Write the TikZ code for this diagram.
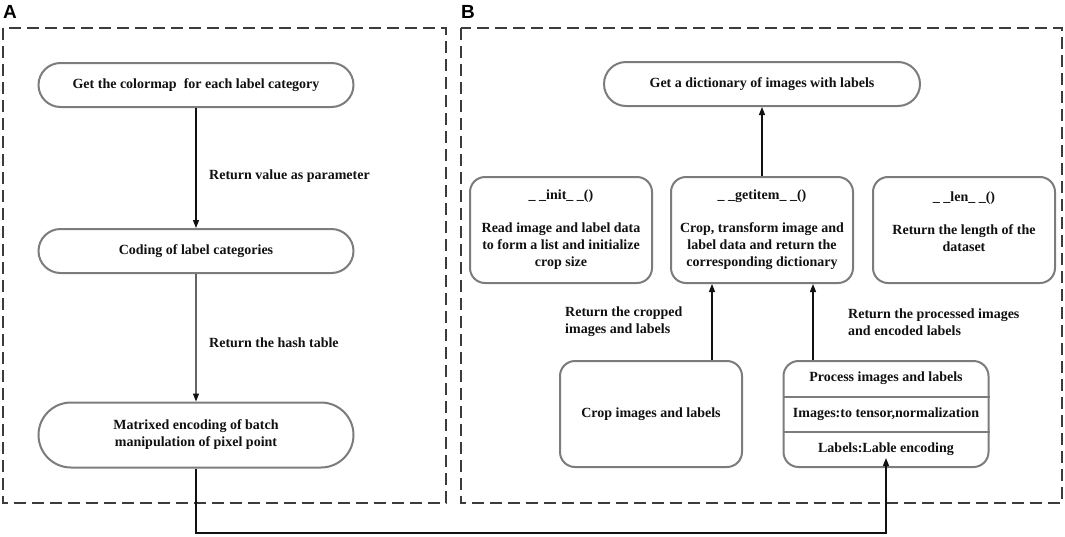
\documentclass[tikz,border=0pt]{standalone}
\usepackage{fontspec}
\setmainfont{Liberation Serif}
\newfontfamily\panelfont{Liberation Sans}
\usetikzlibrary{arrows.meta,shapes.misc,positioning}
\definecolor{boxgray}{HTML}{7C7C7C}
\definecolor{dashgray}{HTML}{3C3C3C}
\definecolor{inkdark}{HTML}{111111}

\begin{document}
\begin{tikzpicture}[x=1pt, y=-1pt,
  pill/.style={rounded rectangle, draw=boxgray, line width=2pt, fill=white,
               text=inkdark, font=\bfseries\fontsize{14}{17}\selectfont,
               minimum width=315pt, minimum height=44pt, align=center, inner sep=0pt},
  card/.style={rectangle, rounded corners=15pt, draw=boxgray, line width=2pt,
               fill=white, text=inkdark, font=\bfseries\fontsize{14}{17}\selectfont,
               minimum width=182pt, minimum height=106pt, align=center, inner sep=0pt},
  rowtxt/.style={text=inkdark, font=\bfseries\fontsize{14}{17}\selectfont, inner sep=0pt},
  panel/.style={dash pattern=on 12pt off 6pt, draw=dashgray, line width=1.5pt},
  flow/.style={-{Triangle[length=8pt,width=6pt]}, line width=1.2pt, inkdark},
  flowlbl/.style={anchor=west, align=left, text=inkdark,
                  font=\bfseries\fontsize{14}{17}\selectfont, inner sep=0pt},
  tag/.style={font=\panelfont\bfseries\fontsize{19}{19}\selectfont, inner sep=0pt}
]
\useasboundingbox (0,0) rectangle (1065,536);

%--- Panels ---
\draw[panel] (3,28) rectangle (446,503);
\draw[panel] (461,28) rectangle (1062,503);
\node[tag] (tagA) at (10,12) {A};
\node[tag] (tagB) at (468,12) {B};

%--- Panel A : label coding ---
\node[pill] (A1) at (196,85)  {Get the colormap\ \ for each label category};
\node[pill] (A2) at (196,251) {Coding of label categories};
\node[pill, minimum height=65pt] (A3) at (196,435)
  {Matrixed encoding of batch\\manipulation of pixel point};

\draw[flow] (A1) -- (A2);
\node[flowlbl] (lblA1) at (209,176) {Return value as parameter};
\draw[flow] (A2) -- (A3);
\node[flowlbl] (lblA2) at (209,343) {Return the hash table};

%--- Panel B : dataset class ---
\node[pill, minimum width=316pt] (B1) at (762,84) {Get a dictionary of images with labels};

\node[card] (B2) at (561,230)
  {\_ \_init\_ \_()\\[16pt]Read image and label data\\to form a list and initialize\\crop size};
\node[card] (B3) at (762,230)
  {\_ \_getitem\_ \_()\\[16pt]Crop, transform image and\\label data and return the\\corresponding dictionary};
\node[card] (B4) at (964,230)
  {\_ \_len\_ \_()\\[16pt]Return the length of the\\dataset\\\mbox{}};

\node[card] (B5) at (651,414) {Crop images and labels};
\node[card, minimum width=205pt] (B6) at (886,414) {};
\node[rowtxt] (B6a) at (886,378) {Process images and labels};
\node[rowtxt] (B6b) at (886,414) {Images:to tensor,normalization};
\node[rowtxt] (B6c) at (886,449) {Labels:Lable encoding};
\draw[boxgray, line width=2pt] (B6.west |- 0,397) -- (B6.east |- 0,397);
\draw[boxgray, line width=2pt] (B6.west |- 0,432) -- (B6.east |- 0,432);

\draw[flow] (B3) -- (B1);
\draw[flow] ([xshift=61pt]B5.north) -- ([xshift=61pt]B5.north |- B3.south);
\node[flowlbl] (lblB5) at (565,322) {Return the cropped\\images and labels};
\draw[flow] ([xshift=-73pt]B6.north) -- ([xshift=-73pt]B6.north |- B3.south);
\node[flowlbl] (lblB6) at (848,322) {Return the processed images\\and encoded labels};

%--- Link A -> B ---
\draw[flow] (A3.south) -- (A3.south |- 0,533) -| ([yshift=10pt]B6.south);

\end{tikzpicture}
\end{document}
